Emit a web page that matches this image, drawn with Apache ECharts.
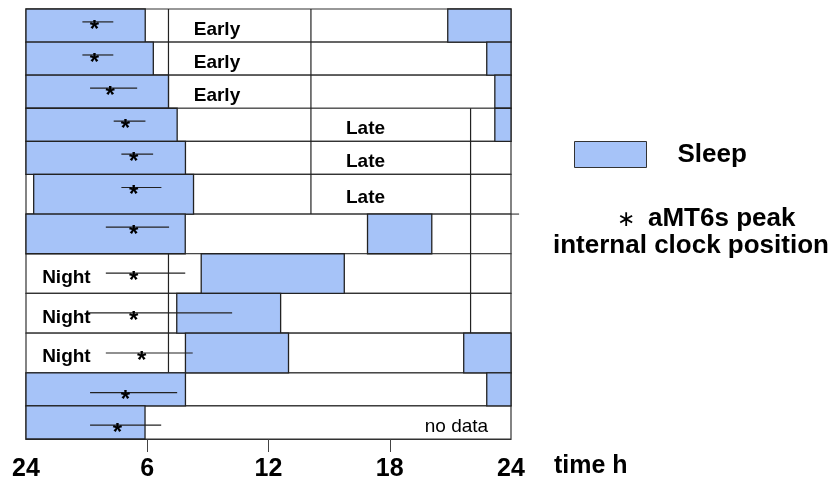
<!DOCTYPE html>
<html>
<head>
<meta charset="utf-8">
<script src="https://cdn.jsdelivr.net/npm/echarts@6/dist/echarts.min.js"></script>
<style>
  html, body { margin: 0; padding: 0; background: #fff; }
  #chart { width: 837px; height: 482px; }
</style>
</head>
<body>
<div id="chart"></div>
<script>
// x axis: hours of the day, 24 -> 24
const xTicks = [6, 12, 18];
const xLabelValues = [0, 6, 12, 18, 24];
const xLabels = ['24', '6', '12', '18', '24'];

// one entry per subject row (top to bottom): shift label
const rowShift = ['Early', 'Early', 'Early', 'Late', 'Late', 'Late', '', 'Night', 'Night', 'Night', '', ''];

// sleep episodes: [row, start h, end h]
const sleepBlocks = [
  [0, 0, 5.9], [0, 20.87, 24],
  [1, 0, 6.3], [1, 22.8, 24],
  [2, 0, 7.05], [2, 23.2, 24],
  [3, 0, 7.48], [3, 23.2, 24],
  [4, 0, 7.89],
  [5, 0.38, 8.29],
  [6, 0, 7.88], [6, 16.9, 20.08],
  [7, 8.67, 15.75],
  [8, 7.46, 12.6],
  [9, 7.89, 12.99], [9, 21.66, 24],
  [10, 0, 7.89], [10, 22.8, 24],
  [11, 0, 5.89]
];

// aMT6s peak: [row, peak h, low h, high h]
const peaks = [
  [0, 3.38, 2.79, 4.32],
  [1, 3.38, 2.79, 4.32],
  [2, 4.16, 3.17, 5.5],
  [3, 4.92, 4.34, 5.91],
  [4, 5.33, 4.72, 6.29],
  [5, 5.33, 4.72, 6.7],
  [6, 5.33, 3.95, 7.08],
  [7, 5.33, 3.95, 7.88],
  [8, 5.33, 3.0, 10.2],
  [9, 5.73, 3.95, 8.25],
  [10, 4.92, 3.17, 7.48],
  [11, 4.52, 3.17, 6.69]
];

// shift boundaries: [hour, first row, last row]
const shiftLines = [
  [7.05, 0, 2],
  [14.1, 0, 5],
  [22.0, 3, 9],
  [7.05, 7, 9]
];

// layout only
const rowH = [1, 1, 1, 1, 1, 1.2, 1.2, 1.2, 1.2, 1.2, 1, 1];
const peakPos = [0.39, 0.39, 0.39, 0.39, 0.39, 0.33, 0.33, 0.49, 0.49, 0.5, 0.6, 0.58];
const labelHour = { Early: 9.45, Late: 16.8, Night: 2.0 };
const rowTop = [];
rowH.reduce((acc, h, i) => { rowTop[i] = acc; return acc + h; }, 0);
const yMax = rowH.reduce((a, b) => a + b, 0);

const FONT = '"Liberation Sans", Arial, sans-serif';
const BLUE = '#a6c3f8';

const rowLabels = [];
rowShift.forEach((s, i) => { if (s) rowLabels.push([i, labelHour[s], s]); });
rowLabels.push([11, 21.3, 'no data']);

const chart = echarts.init(document.getElementById('chart'));

chart.setOption({
  animation: false,
  grid: { left: 26, right: 326, top: 9, bottom: 43 },
  legend: {
    data: ['Sleep'],
    left: 574, top: 141,
    padding: 0,
    icon: 'rect',
    itemWidth: 72, itemHeight: 26,
    selectedMode: false,
    itemStyle: { color: BLUE, borderColor: '#333', borderWidth: 1 },
    textStyle: { fontSize: 26, fontWeight: 'bold', color: '#000', fontFamily: FONT, padding: [0, 0, 0, 26] }
  },
  xAxis: {
    type: 'value', min: 0, max: 24, interval: 6,
    name: 'time h', nameLocation: 'end', nameGap: 43,
    nameTextStyle: { fontSize: 25, fontWeight: 'bold', color: '#000', fontFamily: FONT, verticalAlign: 'top', padding: [15, 0, 0, 0] },
    axisLine: { show: true, onZero: false, lineStyle: { color: '#333', width: 1 } },
    axisTick: { show: true, customValues: xTicks, length: 13, lineStyle: { color: '#444', width: 1 } },
    axisLabel: {
      customValues: xLabelValues,
      showMinLabel: true, showMaxLabel: true,
      formatter: v => xLabels[xLabelValues.indexOf(v)],
      fontSize: 25, fontWeight: 'bold', color: '#000', fontFamily: FONT, margin: 18
    },
    splitLine: { show: false }
  },
  yAxis: { type: 'value', min: 0, max: yMax, inverse: true, show: false },
  series: [
    {
      type: 'custom', z: 1,
      data: rowH.map((h, i) => [0, i]),
      renderItem: (params, api) => {
        const r = params.dataIndex;
        const p0 = api.coord([0, rowTop[r]]);
        const p1 = api.coord([24, rowTop[r] + rowH[r]]);
        const children = [{
          type: 'rect',
          shape: { x: p0[0], y: p0[1], width: p1[0] - p0[0], height: p1[1] - p0[1] },
          style: { fill: '#fff', stroke: '#333', lineWidth: 1.2 }
        }];
        if (r === 6) {
          const e = api.coord([24.4, rowTop[r]]);
          children.push({ type: 'line', shape: { x1: p1[0], y1: p0[1], x2: e[0], y2: e[1] }, style: { stroke: '#444', lineWidth: 1.2 } });
        }
        return { type: 'group', children };
      }
    },
    {
      type: 'custom', z: 2,
      data: shiftLines.map(d => [d[0], d[1]]),
      renderItem: (params, api) => {
        const d = shiftLines[params.dataIndex];
        const a = api.coord([d[0], rowTop[d[1]]]);
        const b = api.coord([d[0], rowTop[d[2]] + rowH[d[2]]]);
        return {
          type: 'line',
          shape: { x1: a[0], y1: a[1], x2: b[0], y2: b[1] },
          style: { stroke: '#222', lineWidth: 1.2 }
        };
      }
    },
    {
      name: 'Sleep', type: 'custom', z: 3,
      itemStyle: { color: BLUE },
      data: sleepBlocks.map(d => [d[1], d[0]]),
      renderItem: (params, api) => {
        const d = sleepBlocks[params.dataIndex];
        const p0 = api.coord([d[1], rowTop[d[0]]]);
        const p1 = api.coord([d[2], rowTop[d[0]] + rowH[d[0]]]);
        return {
          type: 'rect',
          shape: { x: p0[0], y: p0[1], width: p1[0] - p0[0], height: p1[1] - p0[1] },
          style: { fill: BLUE, stroke: '#222', lineWidth: 1.3 }
        };
      }
    },
    {
      type: 'custom', z: 4,
      data: peaks.map(d => [d[1], d[0]]),
      renderItem: (params, api) => {
        const d = peaks[params.dataIndex];
        const y = rowTop[d[0]] + rowH[d[0]] * peakPos[d[0]];
        const a = api.coord([d[2], y]);
        const b = api.coord([d[3], y]);
        const c = api.coord([d[1], y]);
        return {
          type: 'group',
          children: [
            { type: 'line', shape: { x1: a[0], y1: a[1], x2: b[0], y2: b[1] }, style: { stroke: '#222', lineWidth: 1.2 } },
            { type: 'text', x: c[0], y: c[1] + 8,
              style: { text: '*', font: 'bold 24px ' + FONT, fill: '#000', align: 'center', verticalAlign: 'middle' } }
          ]
        };
      }
    },
    {
      type: 'custom', z: 5,
      data: rowLabels.map(d => [d[1], d[0]]),
      renderItem: (params, api) => {
        const d = rowLabels[params.dataIndex];
        const c = api.coord([d[1], rowTop[d[0]] + rowH[d[0]] / 2]);
        const bold = d[2] !== 'no data';
        return {
          type: 'text', x: c[0], y: c[1] + 4,
          style: { text: d[2], font: (bold ? 'bold ' : '') + '19px ' + FONT, fill: '#000', align: 'center', verticalAlign: 'middle' }
        };
      }
    }
  ],
  graphic: [
    { type: 'text', left: 617, top: 209, style: { text: '∗', font: '22px "DejaVu Sans", sans-serif', fill: '#000' } },
    { type: 'text', left: 648, top: 206, style: { text: 'aMT6s peak', font: 'bold 26px ' + FONT, fill: '#000' } },
    { type: 'text', left: 553, top: 233, style: { text: 'internal clock position', font: 'bold 26px ' + FONT, fill: '#000' } }
  ]
});
</script>
</body>
</html>
